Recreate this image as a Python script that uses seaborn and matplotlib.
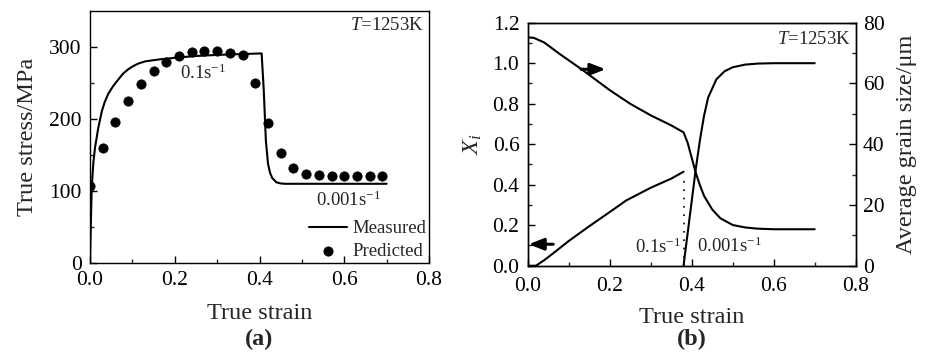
import matplotlib
matplotlib.use("Agg")
import matplotlib.pyplot as plt
import numpy as np
import pandas as pd
import seaborn as sns

# (a) stress-strain, T = 1253 K
meas_strain = [0.0, 0.001, 0.004, 0.008, 0.012, 0.0196, 0.028, 0.035, 0.043, 0.055, 0.067,
               0.078, 0.09, 0.102, 0.114, 0.13, 0.16, 0.2, 0.25, 0.3, 0.35, 0.4, 0.405,
               0.41, 0.415, 0.42, 0.425, 0.43, 0.44, 0.45, 0.46, 0.5, 0.6, 0.7]
meas_stress = [0.0, 30, 105, 140, 161, 188, 211, 224, 235, 246, 255,
               263, 269, 273.5, 277, 280, 282.5, 285, 287.5, 289, 290, 291, 291,
               240, 170, 138, 125, 118, 112, 110.5, 110, 110, 110, 110]
pred_strain = [0.0, 0.03, 0.06, 0.09, 0.12, 0.15, 0.18, 0.21, 0.24, 0.27, 0.30, 0.33,
               0.36, 0.39, 0.42, 0.45, 0.48, 0.51, 0.54, 0.57, 0.60, 0.63, 0.66, 0.69]
pred_stress = [107, 160, 196, 225, 249, 266, 279, 288, 293, 295, 294, 292,
               289, 250, 195, 153, 132, 124, 122, 121, 121, 121, 121, 121]

# (b) recrystallised fraction and grain size
xi1_strain = [0.0, 0.02, 0.04, 0.06, 0.1, 0.15, 0.2, 0.24, 0.3, 0.35, 0.38]
xi1_frac = [0.0, 0.0, 0.027, 0.058, 0.122, 0.195, 0.265, 0.322, 0.385, 0.43, 0.464]
xi2_strain = [0.38, 0.39, 0.40, 0.41, 0.42, 0.43, 0.44, 0.46, 0.48, 0.50, 0.53, 0.56, 0.6, 0.7]
xi2_frac = [0.0, 0.16, 0.32, 0.48, 0.62, 0.74, 0.83, 0.92, 0.96, 0.98, 0.993, 0.998, 1.0, 1.0]
gs_strain = [0.0, 0.015, 0.04, 0.08, 0.13, 0.2, 0.25, 0.3, 0.35, 0.38, 0.39, 0.40, 0.41,
             0.42, 0.43, 0.45, 0.47, 0.5, 0.53, 0.56, 0.6, 0.7]
gs_size = [75.2, 75.0, 73.5, 69.5, 64.8, 57.8, 53.3, 49.5, 46.2, 43.9, 40.5, 35.5, 30.5,
           26.5, 23.0, 18.5, 15.6, 13.4, 12.6, 12.2, 12.0, 12.0]

sns.set_style("ticks")
plt.rcParams["font.family"] = ["Liberation Serif", "DejaVu Serif"]
plt.rcParams["mathtext.fontset"] = "custom"
plt.rcParams["mathtext.rm"] = "Liberation Serif"
plt.rcParams["mathtext.it"] = "Liberation Serif:italic"
plt.rcParams["xtick.direction"] = "in"
plt.rcParams["ytick.direction"] = "in"

fig = plt.figure(figsize=(9.27, 3.58), dpi=100)
ax1 = fig.add_axes([0.0971, 0.2654, 0.3657, 0.7039])
ax2 = fig.add_axes([0.5693, 0.2578, 0.3538, 0.6788])

tick_fs = 15.5
label_fs = 17.5

def style_axes(ax):
    for s in ax.spines.values():
        s.set_linewidth(1.0)
        s.set_color("black")
    ax.tick_params(which="major", length=5, width=1, labelsize=tick_fs, colors="black",
                   pad=6)
    ax.tick_params(which="minor", length=3, width=1)

arrow_style = dict(arrowstyle="-|>,head_length=0.9,head_width=0.35", color="black",
                   lw=2.2, shrinkA=0, shrinkB=0)

# ---- (a)
df_m = pd.DataFrame({"strain": meas_strain, "stress": meas_stress})
df_p = pd.DataFrame({"strain": pred_strain, "stress": pred_stress})
sns.lineplot(data=df_m, x="strain", y="stress", ax=ax1, color="black", lw=1.5,
             label="Measured")
sns.scatterplot(data=df_p, x="strain", y="stress", ax=ax1, color="black", s=45,
                edgecolor="black", label="Predicted", zorder=3)
ax1.set_xlim(0, 0.8)
ax1.set_ylim(0, 350)
ax1.set_xticks(np.arange(0, 0.81, 0.2))
ax1.set_xticks(np.arange(0.1, 0.8, 0.2), minor=True)
ax1.set_yticks([0, 100, 200, 300])
ax1.set_yticks([50, 150, 250], minor=True)
ax1.set_xticklabels(["0.0", "0.2", "0.4", "0.6", "0.8"])
ax1.set_xlabel("True strain", fontsize=label_fs, labelpad=9)
ax1.set_ylabel("True stress/MPa", fontsize=label_fs, labelpad=8)
style_axes(ax1)
leg = ax1.legend(loc="lower right", bbox_to_anchor=(1.0, 0.0), frameon=False,
                 fontsize=13.5, handlelength=2.0, borderaxespad=0.0, handletextpad=0.3,
                 labelspacing=0.3, borderpad=0.15)
leg.set_zorder(5)
ax1.text(0.985, 0.975, r"$\it{T}$=1253K", transform=ax1.transAxes, ha="right",
         va="top", fontsize=13.5)
ax1.text(0.212, 250, r"0.1s$^{\mathregular{-1}}$", fontsize=13.5, va="bottom")
ax1.text(0.533, 74, r"0.001s$^{\mathregular{-1}}$", fontsize=13.5, va="bottom")
ax1.text(0.5, -0.305, "(a)", transform=ax1.transAxes, ha="center", va="center",
         fontsize=label_fs, fontweight="bold")

# ---- (b)
df_x1 = pd.DataFrame({"strain": xi1_strain, "frac": xi1_frac})
df_x2 = pd.DataFrame({"strain": xi2_strain, "frac": xi2_frac})
sns.lineplot(data=df_x1, x="strain", y="frac", ax=ax2, color="black", lw=1.5)
sns.lineplot(data=df_x2, x="strain", y="frac", ax=ax2, color="black", lw=1.5)
ax2.plot([0.38, 0.38], [0, 0.43], ls=(0, (1, 4)), color="black", lw=1.2)
ax2.set_xlim(0, 0.8)
ax2.set_ylim(0, 1.2)
ax2.set_xticks(np.arange(0, 0.81, 0.2))
ax2.set_xticks(np.arange(0.1, 0.8, 0.2), minor=True)
ax2.set_xticklabels(["0.0", "0.2", "0.4", "0.6", "0.8"])
ax2.set_yticks(np.arange(0, 1.21, 0.2))
ax2.set_yticks(np.arange(0.1, 1.2, 0.2), minor=True)
ax2.set_yticklabels(["0.0", "0.2", "0.4", "0.6", "0.8", "1.0", "1.2"])
ax2.set_xlabel("True strain", fontsize=label_fs, labelpad=8)
ax2.set_ylabel(r"$X_i$", fontsize=label_fs, labelpad=6)
style_axes(ax2)
ax2.tick_params(axis="x", pad=8)

ax3 = ax2.twinx()
df_g = pd.DataFrame({"strain": gs_strain, "size": gs_size})
sns.lineplot(data=df_g, x="strain", y="size", ax=ax3, color="black", lw=1.5)
ax3.set_ylim(0, 80)
ax3.set_yticks([0, 20, 40, 60, 80])
ax3.set_yticks([10, 30, 50, 70], minor=True)
ax3.set_ylabel("Average grain size/μm", fontsize=label_fs, labelpad=8)
style_axes(ax3)
ax3.tick_params(axis="y", pad=5)

ax2.annotate("", xy=(0.19, 0.97), xytext=(0.13, 0.97), arrowprops=arrow_style)
ax2.annotate("", xy=(0.002, 0.106), xytext=(0.062, 0.106), arrowprops=arrow_style)
ax2.text(0.985, 0.965, r"$\it{T}$=1253K", transform=ax2.transAxes, ha="right",
         va="top", fontsize=13.5)
ax2.text(0.262, 0.045, r"0.1s$^{\mathregular{-1}}$", fontsize=13.5, va="bottom")
ax2.text(0.413, 0.05, r"0.001s$^{\mathregular{-1}}$", fontsize=13.5, va="bottom")
ax2.text(0.5, -0.305, "(b)", transform=ax2.transAxes, ha="center", va="center",
         fontsize=label_fs, fontweight="bold")

fig.savefig("out.png", dpi=100)
